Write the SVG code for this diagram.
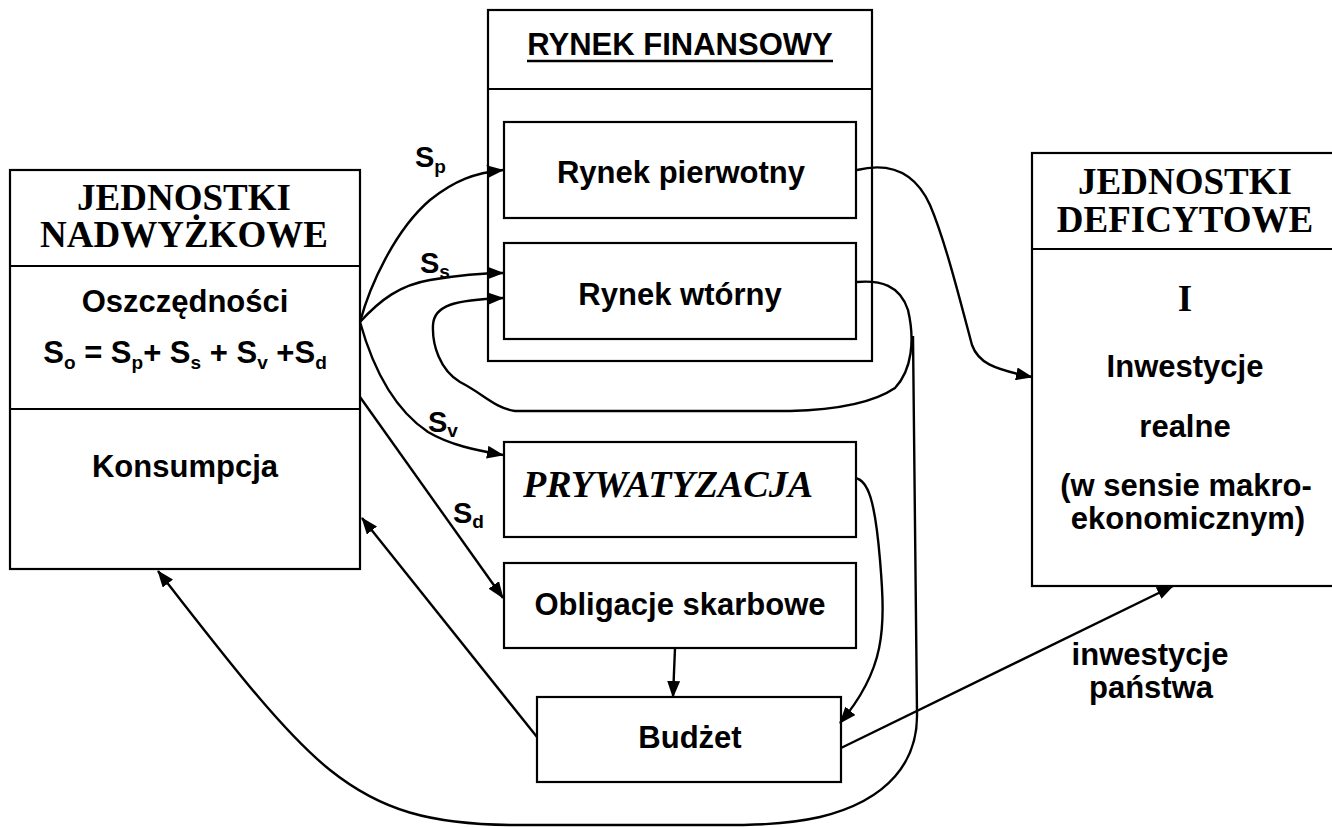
<svg xmlns="http://www.w3.org/2000/svg" width="1332" height="827" viewBox="0 0 1332 827">
<style>
.box{fill:#fff;stroke:#000;stroke-width:2.2}
.div{stroke:#000;stroke-width:2.2}
.ser{font-family:"Liberation Serif","Times New Roman",serif;font-weight:bold;font-size:37px;fill:#000}
.san{font-family:"Liberation Sans",Arial,sans-serif;font-weight:bold;font-size:31px;fill:#000}
.lbl{font-family:"Liberation Sans",Arial,sans-serif;font-weight:bold;font-size:29px;fill:#000}
.sub{font-size:19px}
.con{fill:none;stroke:#000;stroke-width:2.4}
.arr{marker-end:url(#ah)}
</style>
<defs>
<marker id="ah" markerWidth="17" markerHeight="13" refX="16" refY="6.5" orient="auto" markerUnits="userSpaceOnUse">
<path d="M0,0 L17,6.5 L0,13 z" fill="#000"/>
</marker>
</defs>
<rect width="1332" height="827" fill="#fff"/>

<g id="nadwyzkowe">
<rect class="box" x="10" y="170" width="350" height="399"/>
<line class="div" x1="10" y1="266" x2="360" y2="266"/>
<line class="div" x1="10" y1="409" x2="360" y2="409"/>
<text class="ser" x="184" y="210" text-anchor="middle">JEDNOSTKI</text>
<text class="ser" x="184" y="247" text-anchor="middle">NADWYŻKOWE</text>
<text class="san" x="185" y="312" text-anchor="middle">Oszczędności</text>
<text class="san" x="185" y="363" text-anchor="middle" font-size="30">S<tspan class="sub" dy="6">o</tspan><tspan dy="-6"> = S</tspan><tspan class="sub" dy="6">p</tspan><tspan dy="-6">+ S</tspan><tspan class="sub" dy="6">s</tspan><tspan dy="-6"> + S</tspan><tspan class="sub" dy="6">v</tspan><tspan dy="-6"> +S</tspan><tspan class="sub" dy="6">d</tspan></text>
<text class="san" x="185" y="477" text-anchor="middle">Konsumpcja</text>
</g>

<g id="rynek-finansowy">
<rect class="box" x="488" y="10" width="384" height="351"/>
<line class="div" x1="488" y1="89" x2="872" y2="89"/>
<text class="san" x="680" y="55" text-anchor="middle" font-size="30">RYNEK FINANSOWY</text>
<line x1="527" y1="61" x2="833" y2="61" stroke="#000" stroke-width="2.6"/>
</g>

<g id="rynek-pierwotny">
<rect class="box" x="504" y="122" width="352" height="96"/>
<text class="san" x="681" y="183" text-anchor="middle" font-size="32">Rynek pierwotny</text>
</g>

<g id="rynek-wtorny">
<rect class="box" x="504" y="243" width="352" height="96"/>
<text class="san" x="680" y="305" text-anchor="middle" font-size="32">Rynek wtórny</text>
</g>

<g id="prywatyzacja">
<rect class="box" x="504" y="442" width="352" height="95"/>
<text x="523" y="497" font-family="'Liberation Serif','Times New Roman',serif" font-weight="bold" font-style="italic" font-size="38" fill="#000">PRYWATYZACJA</text>
</g>

<g id="obligacje">
<rect class="box" x="504" y="563" width="352" height="85"/>
<text class="san" x="680" y="615" text-anchor="middle" font-size="32">Obligacje skarbowe</text>
</g>

<g id="budzet">
<rect class="box" x="537" y="697" width="304" height="85"/>
<text class="san" x="690" y="748" text-anchor="middle" font-size="32">Budżet</text>
</g>

<g id="deficytowe">
<rect class="box" x="1032" y="153" width="320" height="433"/>
<line class="div" x1="1032" y1="249" x2="1352" y2="249"/>
<text class="ser" x="1185" y="194" text-anchor="middle">JEDNOSTKI</text>
<text class="ser" x="1185" y="232" text-anchor="middle">DEFICYTOWE</text>
<text class="ser" x="1185" y="311" text-anchor="middle">I</text>
<text class="san" x="1185" y="377" text-anchor="middle" font-size="32">Inwestycje</text>
<text class="san" x="1185" y="437" text-anchor="middle" font-size="32">realne</text>
<text class="san" x="1186" y="496" text-anchor="middle" font-size="31">(w sensie makro-</text>
<text class="san" x="1188" y="529" text-anchor="middle" font-size="31">ekonomicznym)</text>
</g>

<g id="connectors">
<path class="con arr" d="M360,322 C370,285 395,230 430,200 C455,180 475,173 503,170"/>
<path class="con arr" d="M360,322 C380,300 400,285 430,280 C460,275 480,273 503,273"/>
<path class="con arr" d="M360,322 C372,365 392,408 428,432 C450,445 475,450 503,455"/>
<path class="con arr" d="M360,397 L503,598"/>
<path class="con arr" d="M537,737 L362,518"/>
<path class="con arr" d="M675,648 L673,697"/>
<path class="con arr" d="M855,478 C868,480 875,500 880,560 C886,630 885,670 840,723"/>
<path class="con arr" d="M841,748 L1173,586"/>
<path class="con arr" d="M857,170 C890,162 915,172 930,205 C945,240 960,300 972,345 C978,362 992,369 1032,377"/>
<path class="con arr" d="M857,282 C880,280 900,285 908,310 C915,340 912,370 895,388 C870,405 830,410 790,411 L515,411 C495,408 485,395 460,382 C440,370 432,345 433,325 C434,305 455,300 503,298"/>
<path class="con arr" d="M913,336 L917,713 C918,760 890,800 820,817 C780,826 740,825 700,825 L517,825 C430,825 380,810 330,770 C280,730 220,650 158,571"/>
</g>

<g id="labels">
<text class="lbl" x="415" y="167">S<tspan class="sub" dy="6">p</tspan></text>
<text class="lbl" x="420" y="273">S<tspan class="sub" dy="5">s</tspan></text>
<text class="lbl" x="428" y="432">S<tspan class="sub" dy="5">v</tspan></text>
<text class="lbl" x="453" y="523">S<tspan class="sub" dy="5">d</tspan></text>
<text class="san" x="1150" y="665" text-anchor="middle" font-size="30">inwestycje</text>
<text class="san" x="1151" y="698" text-anchor="middle" font-size="30">państwa</text>
</g>
</svg>
